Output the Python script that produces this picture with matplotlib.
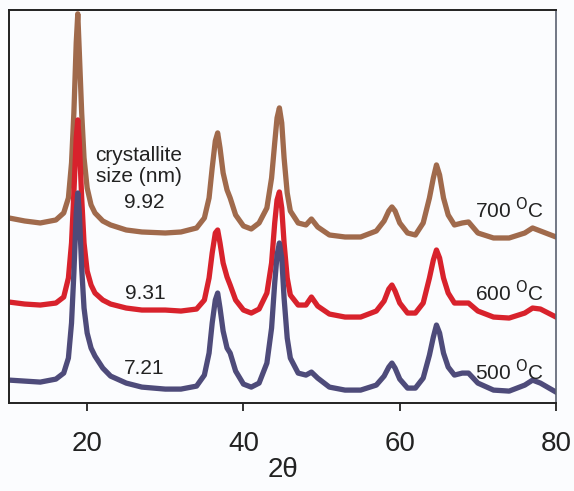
import matplotlib
matplotlib.use("Agg")
import matplotlib.pyplot as plt

# 2-theta positions (deg) of the read-off points, shared by all three patterns
two_theta = [10, 12, 14, 16, 17, 17.6, 18.0, 18.3, 18.6, 18.8, 19.0, 19.3, 19.6, 20.0,
             20.5, 21, 22, 23, 25, 27, 30, 32, 34, 35, 35.6, 36.0, 36.4, 36.7, 37.0,
             37.4, 37.9, 38.3, 39, 40, 41, 42, 43, 43.6, 44.0, 44.3, 44.6, 44.9, 45.2,
             45.6, 46, 47, 48, 48.7, 49.5, 51, 53, 55, 57, 58, 58.6, 59.0, 59.4, 60,
             61, 62, 63, 63.8, 64.3, 64.7, 65.1, 65.6, 66.2, 67, 68, 68.8, 70, 72, 74,
             76, 77, 78, 80]

# intensities (arbitrary units, already offset as in the figure)
int_700 = [185, 182, 180, 183, 190, 205, 240, 290, 360, 389, 350, 290, 245, 215,
           198, 190, 182, 178, 173, 171, 170, 171, 175, 185, 205, 235, 262, 270, 255,
           230, 213, 205, 188, 177, 174, 180, 195, 225, 260, 285, 295, 280, 245,
           210, 192, 180, 178, 184, 176, 168, 166, 166, 172, 182, 192, 196, 192, 180,
           170, 168, 180, 205, 225, 238, 228, 205, 188, 178, 180, 181, 170, 165, 165,
           170, 175, 172, 166]

int_600 = [101, 99, 98, 100, 106, 125, 160, 210, 265, 283, 260, 205, 160, 132,
           118, 110, 103, 99, 95, 93, 93, 92, 94, 103, 125, 150, 170, 173, 160,
           140, 126, 118, 103, 93, 90, 94, 110, 140, 180, 203, 211, 195, 160,
           125, 108, 98, 98, 106, 97, 89, 86, 86, 92, 102, 114, 118, 112, 100,
           90, 90, 100, 125, 143, 153, 145, 125, 110, 100, 100, 100, 92, 86, 85,
           90, 95, 94, 86]

int_500 = [23, 22, 21, 24, 30, 45, 80, 130, 190, 210, 190, 135, 95, 70,
           55, 47, 35, 27, 20, 16, 14, 14, 17, 28, 50, 80, 103, 110, 95,
           72, 55, 50, 32, 19, 16, 20, 40, 75, 120, 148, 160, 145, 105,
           65, 45, 30, 28, 31, 25, 16, 13, 13, 18, 27, 36, 40, 35, 24,
           15, 15, 25, 48, 66, 78, 70, 50, 36, 28, 30, 30, 20, 13, 12,
           18, 23, 20, 11]

temp_labels = ["700 $^{\\mathrm{O}}$C", "600 $^{\\mathrm{O}}$C", "500 $^{\\mathrm{O}}$C"]
size_labels = ["9.92", "9.31", "7.21"]
colors = ["#a06a4c", "#d8222c", "#4e4b7a"]

plt.rcParams['font.family'] = ['Liberation Sans', 'DejaVu Sans']

fig = plt.figure(figsize=(5.74, 4.91), dpi=100)
fig.patch.set_facecolor("#fbfcfe")
ax = fig.add_axes([0.0157, 0.179, 0.953, 0.801])
ax.set_facecolor("#fbfcfe")

# order of drawing: brown at the back, blue on top
for y, c in zip([int_700, int_600, int_500], colors):
    ax.plot(two_theta, y, color=c, lw=3.8, solid_joinstyle="round")

ax.set_xlim(10, 80)
ax.set_ylim(0, 393)
ax.set_xticks([20, 40, 60, 80])
ax.set_yticks([])
ax.tick_params(axis="x", direction="out", length=6, width=1.3, pad=14,
               labelsize=20, colors="#222222")
for side in ["left", "top", "bottom"]:
    ax.spines[side].set_linewidth(1.4)
    ax.spines[side].set_color("#222222")
ax.spines["right"].set_linewidth(1.2)
ax.spines["right"].set_color("#5a6070")

ax.set_xlabel("2θ", fontsize=20, labelpad=0, color="#222222")

# annotations
ax.text(26.6, 237, "crystallite\nsize (nm)", ha="center", va="center",
        fontsize=15, linespacing=1.15, color="#222222")
ax.text(27.3, 200, size_labels[0], ha="center", va="center", fontsize=15, color="#222222")
ax.text(27.4, 110, size_labels[1], ha="center", va="center", fontsize=15, color="#222222")
ax.text(27.3, 35, size_labels[2], ha="center", va="center", fontsize=15, color="#222222")

for lab, yy in zip(temp_labels, [193, 110, 31]):
    ax.text(74.0, yy, lab, ha="center", va="center", fontsize=15, color="#222222")

plt.savefig("out.png", dpi=100, facecolor=fig.get_facecolor())
